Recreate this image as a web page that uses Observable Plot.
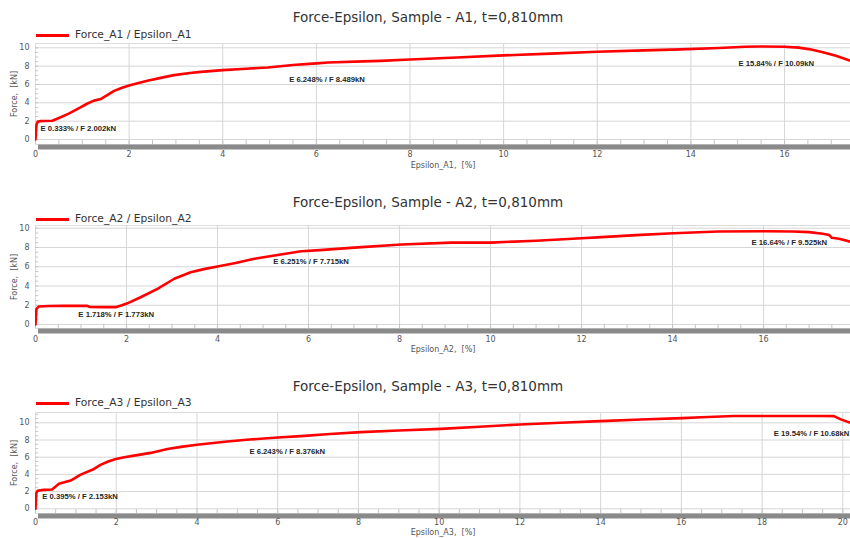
<!DOCTYPE html>
<html><head><meta charset="utf-8">
<script src="https://cdn.jsdelivr.net/npm/d3@7"></script>
<script src="https://cdn.jsdelivr.net/npm/@observablehq/plot@0.6"></script>
<style>
body{margin:0;width:850px;height:538px;overflow:hidden;position:relative;background:#fff;font-family:"DejaVu Sans",Verdana,sans-serif;}
.title{position:absolute;left:0;width:856px;text-align:center;font-size:13.5px;line-height:16px;color:#333;}
.legend{position:absolute;left:36px;height:14px;font-size:10.7px;line-height:14px;color:#333;display:flex;align-items:center;white-space:nowrap;}
.legend .sw{width:33px;height:3px;background:#ff0000;margin-right:6px;}
.plot{position:absolute;left:0;}
</style></head><body>
<script>
// ---------- data ----------
const titles = ["Force-Epsilon, Sample - A1, t=0,810mm", "Force-Epsilon, Sample - A2, t=0,810mm", "Force-Epsilon, Sample - A3, t=0,810mm"];
const legendLabels = ["Force_A1 / Epsilon_A1", "Force_A2 / Epsilon_A2", "Force_A3 / Epsilon_A3"];
const xLabels = ["Epsilon_A1,  [%]", "Epsilon_A2,  [%]", "Epsilon_A3,  [%]"];
const yLabel = "Force,  [kN]";
const yTicks = [0, 2, 4, 6, 8, 10];
const xTicks_A1 = [0, 2, 4, 6, 8, 10, 12, 14, 16];
const xTicks_A2 = [0, 2, 4, 6, 8, 10, 12, 14, 16];
const xTicks_A3 = [0, 2, 4, 6, 8, 10, 12, 14, 16, 18, 20];

const eps_A1 = [0, 0.02, 0.05, 0.1, 0.2, 0.36, 0.5, 0.7, 0.96, 1.1, 1.25, 1.4, 1.55, 1.68, 1.85, 1.98, 2.2, 2.39, 2.7, 2.96, 3.3, 3.53, 4.0, 4.5, 4.96, 5.5, 6.0, 6.25, 7.0, 7.37, 8.0, 9.0, 10.0, 11.0, 12.0, 13.0, 13.78, 14.6, 15.16, 15.5, 16.0, 16.3, 16.52, 16.8, 17.1, 17.45];
const force_A1 = [0, 1.6, 1.95, 2.0, 2.02, 2.05, 2.35, 2.8, 3.5, 3.9, 4.24, 4.42, 4.9, 5.3, 5.65, 5.87, 6.15, 6.41, 6.75, 7.02, 7.25, 7.38, 7.57, 7.72, 7.86, 8.12, 8.3, 8.4, 8.52, 8.58, 8.72, 8.95, 9.17, 9.37, 9.57, 9.72, 9.83, 9.98, 10.12, 10.14, 10.12, 10.02, 9.86, 9.55, 9.13, 8.5];

const eps_A2 = [0, 0.02, 0.07, 0.3, 0.6, 1.14, 1.2, 1.5, 1.76, 1.9, 2.02, 2.31, 2.68, 3.05, 3.41, 3.7, 4.0, 4.37, 4.81, 5.25, 5.84, 6.25, 7.0, 8.04, 9.14, 10.0, 11.0, 12.0, 12.44, 13.2, 14.02, 15.0, 16.04, 16.64, 17.0, 17.3, 17.44, 17.5, 17.66, 17.95];
const force_A2 = [0, 1.6, 1.87, 1.92, 1.93, 1.93, 1.82, 1.8, 1.8, 2.0, 2.2, 2.83, 3.7, 4.75, 5.43, 5.75, 6.02, 6.37, 6.82, 7.17, 7.61, 7.72, 7.98, 8.3, 8.5, 8.5, 8.7, 8.95, 9.07, 9.28, 9.48, 9.65, 9.68, 9.65, 9.59, 9.42, 9.3, 9.0, 8.9, 8.55];

const eps_A3 = [0, 0.02, 0.05, 0.2, 0.41, 0.5, 0.58, 0.87, 1.12, 1.45, 1.61, 1.8, 1.99, 2.2, 2.44, 2.85, 3.27, 3.6, 4.0, 4.75, 5.3, 6.0, 6.57, 7.3, 8.05, 9.0, 10.04, 11.0, 12.0, 13.0, 14.0, 15.0, 16.02, 16.5, 17.3, 18.5, 19.5, 19.78, 19.95, 20.2];
const force_A3 = [0, 1.8, 2.1, 2.2, 2.25, 2.6, 2.9, 3.28, 3.97, 4.63, 5.1, 5.5, 5.8, 6.0, 6.18, 6.5, 6.95, 7.2, 7.45, 7.83, 8.05, 8.3, 8.45, 8.7, 8.92, 9.1, 9.3, 9.55, 9.8, 10.0, 10.2, 10.38, 10.55, 10.65, 10.8, 10.8, 10.8, 10.78, 10.4, 10.0];

const annEps_A1 = [0.333, 6.248, 15.84];
const annForce_A1 = [2.002, 8.489, 10.09];
const annText_A1 = ["E 0.333% / F 2.002kN", "E 6.248% / F 8.489kN", "E 15.84% / F 10.09kN"];
const annEps_A2 = [1.718, 6.251, 16.64];
const annForce_A2 = [1.773, 7.715, 9.525];
const annText_A2 = ["E 1.718% / F 1.773kN", "E 6.251% / F 7.715kN", "E 16.64% / F 9.525kN"];
const annEps_A3 = [0.395, 6.243, 19.54];
const annForce_A3 = [2.153, 8.376, 10.68];
const annText_A3 = ["E 0.395% / F 2.153kN", "E 6.243% / F 8.376kN", "E 19.54% / F 10.68kN"];

// ---------- layout / style ----------
const panels = [
  {eps: eps_A1, force: force_A1, xTicks: xTicks_A1, annE: annEps_A1, annF: annForce_A1, annT: annText_A1,
   titleTop: 9, legendTop: 28, svgTop: 38, height: 136, mt: 5, mb: 30, xDomain: [0, 17.41], yDomain: [-0.545, 10.47], tickPad: 7.3, labelOffset: 23,
   annStyle: [{dx: -10.6, dy: 7.1, a: "start"}, {dx: -1, dy: 18.1, a: "middle"}, {dx: -0.8, dy: 16.8, a: "middle"}]},
  {eps: eps_A2, force: force_A2, xTicks: xTicks_A2, annE: annEps_A2, annF: annForce_A2, annT: annText_A2,
   titleTop: 194, legendTop: 212.3, svgTop: 220, height: 138, mt: 5, mb: 30, xDomain: [0, 17.91], yDomain: [-0.415, 10.28], tickPad: 7.4, labelOffset: 23,
   annStyle: [{dx: 2.5, dy: 7.4, a: "middle"}, {dx: -8.9, dy: 11.6, a: "middle"}, {dx: -3.4, dy: 9.4, a: "middle"}]},
  {eps: eps_A3, force: force_A3, xTicks: xTicks_A3, annE: annEps_A3, annF: annForce_A3, annT: annText_A3,
   titleTop: 377.5, legendTop: 396.3, svgTop: 407, height: 131, mt: 5, mb: 25, xDomain: [0, 20.19], yDomain: [-0.55, 11.2], tickPad: 5.8, labelOffset: 21.3,
   annStyle: [{dx: -9.2, dy: 6.2, a: "start"}, {dx: -0.3, dy: 14.7, a: "middle"}, {dx: -50.5, dy: 16.8, a: "start"}]}
];

panels.forEach((p, i) => {
  const t = document.createElement("div");
  t.className = "title"; t.style.top = p.titleTop + "px"; t.textContent = titles[i];
  document.body.appendChild(t);

  const lg = document.createElement("div");
  lg.className = "legend"; lg.style.top = p.legendTop + "px";
  const sw = document.createElement("span"); sw.className = "sw";
  const lt = document.createElement("span"); lt.textContent = legendLabels[i];
  lg.appendChild(sw); lg.appendChild(lt);
  document.body.appendChild(lg);

  const data = p.eps.map((e, k) => ({e, f: p.force[k]}));
  const minorX = d3.range(0, p.xDomain[1], 0.5);
  const minorY = d3.range(0, p.yDomain[1], 0.5);

  const annMarks = p.annT.map((txt, k) => Plot.text([{e: p.annE[k], f: p.annF[k], t: txt}], {
    x: "e", y: "f", text: "t", dx: p.annStyle[k].dx, dy: p.annStyle[k].dy, textAnchor: p.annStyle[k].a,
    fontSize: 7.7, fontWeight: "bold", fontFamily: "Liberation Sans, Arial, sans-serif", fill: "#262626"
  }));

  const svg = Plot.plot({
    width: 850, height: p.height,
    marginLeft: 35, marginRight: 0, marginTop: p.mt, marginBottom: p.mb,
    style: {fontFamily: "DejaVu Sans, Verdana, sans-serif", fontSize: "8px", color: "#555", background: "transparent", overflow: "visible"},
    x: {domain: p.xDomain},
    y: {domain: p.yDomain},
    marks: [
      Plot.gridX(p.xTicks, {stroke: "#d6d6d6", strokeOpacity: 1}),
      Plot.gridY(yTicks, {stroke: "#d6d6d6", strokeOpacity: 1}),
      Plot.frame({stroke: "#dcdcdc"}),
      Plot.axisX(minorX, {tickSize: -4, tickFormat: () => "", label: null, stroke: "#c4c4c4"}),
      Plot.axisY(minorY, {tickSize: -3, tickFormat: () => "", label: null, stroke: "#c4c4c4"}),
      Plot.frame({anchor: "bottom", stroke: "#8a8a8a", strokeWidth: 5, dy: 2.5, insetLeft: 5}),
      Plot.axisX(p.xTicks, {tickSize: 0, tickPadding: p.tickPad, label: xLabels[i], labelAnchor: "center", labelArrow: "none", labelOffset: p.labelOffset}),
      Plot.axisY(yTicks, {tickSize: 0, tickPadding: 6, label: yLabel, labelAnchor: "center", labelArrow: "none", labelOffset: 24}),
      Plot.line(data, {x: "e", y: "f", stroke: "#ff0000", strokeWidth: 2.6, clip: true}),
      ...annMarks
    ]
  });
  svg.classList.add("plot");
  svg.style.position = "absolute";
  svg.style.top = p.svgTop + "px";
  svg.style.left = "0px";
  document.body.appendChild(svg);
});
</script>
</body></html>
